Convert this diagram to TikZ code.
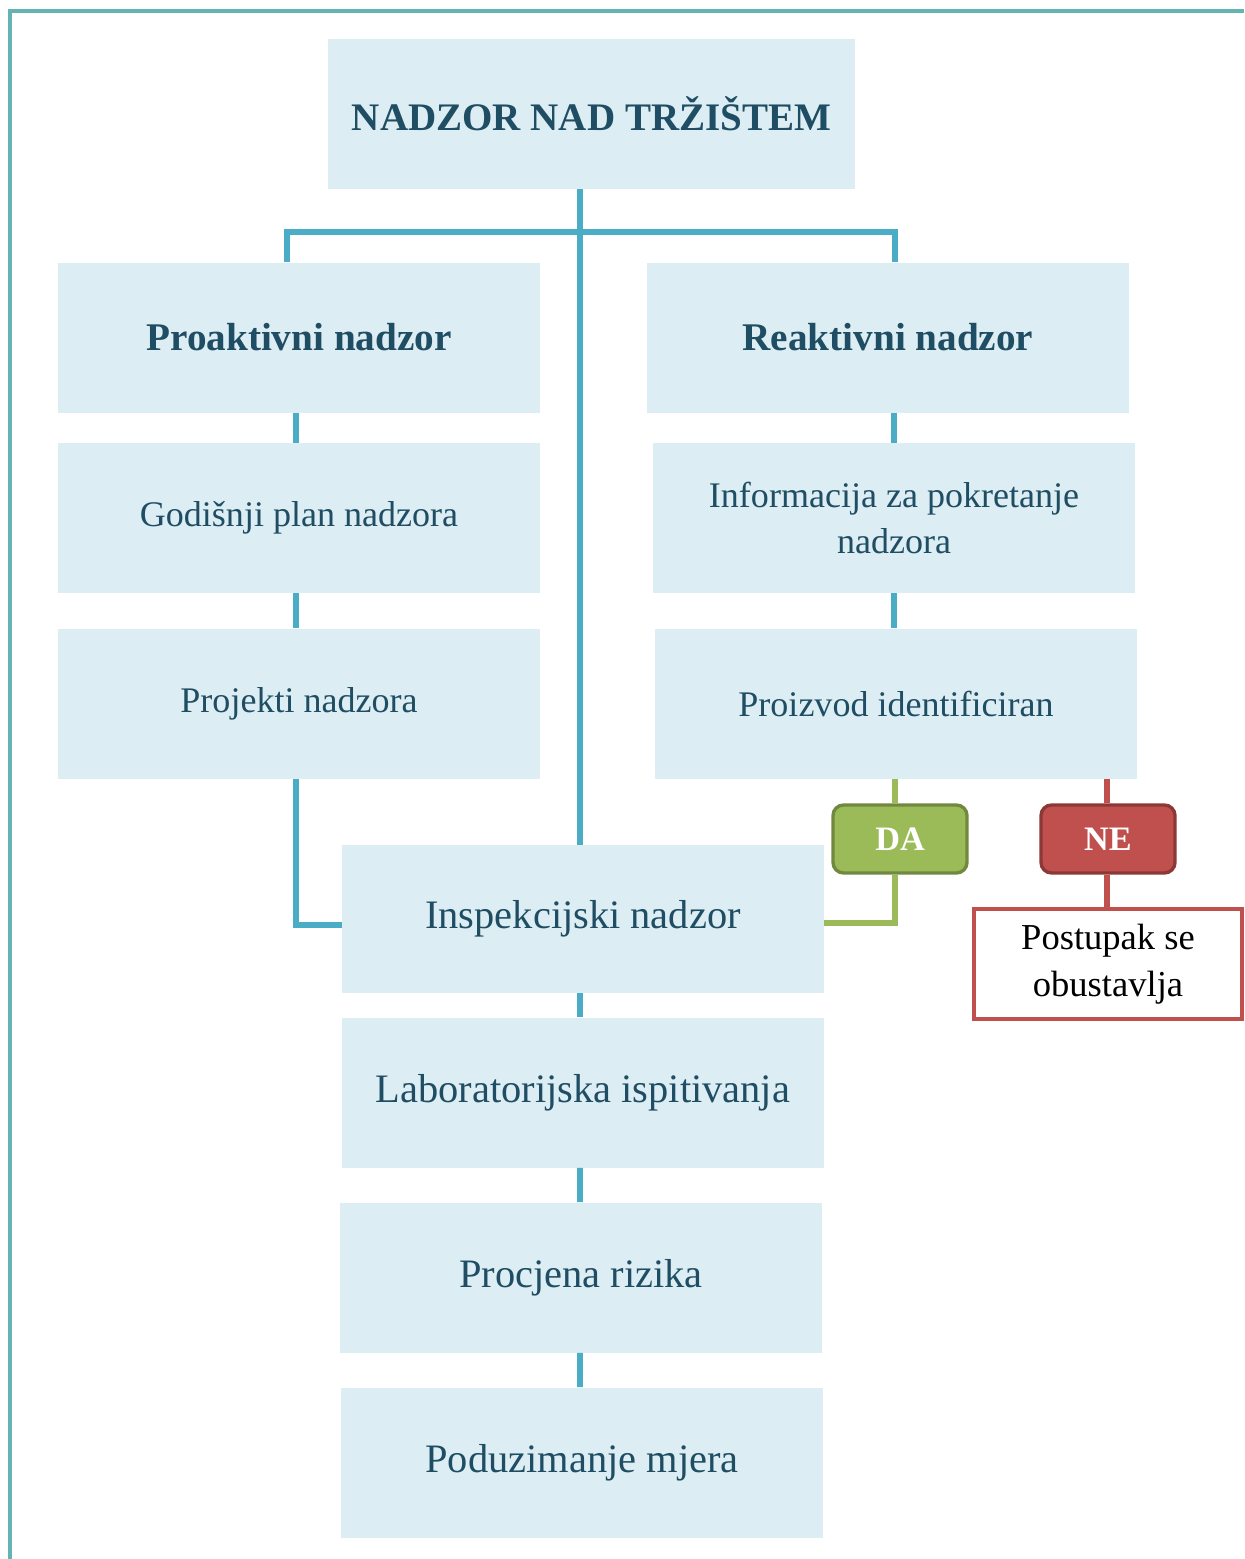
\documentclass[tikz,border=0pt]{standalone}
\usepackage{fontspec}
\setmainfont{Liberation Serif}
\usetikzlibrary{positioning}

\definecolor{okvir}{RGB}{100,180,180}
\definecolor{plavo}{RGB}{220,237,243}
\definecolor{veza}{RGB}{75,172,198}
\definecolor{tekst}{RGB}{31,77,99}
\definecolor{zeleno}{RGB}{155,187,89}
\definecolor{zelenorub}{RGB}{113,137,63}
\definecolor{crveno}{RGB}{192,80,77}
\definecolor{crvenorub}{RGB}{140,56,54}

\tikzset{
  blok/.style={fill=plavo, text=tekst, inner sep=0pt, align=center,
    minimum width=9.64cm, minimum height=3cm,
    font=\fontsize{20.5}{26.6}\selectfont},
  veliki/.style={blok, font=\fontsize{23}{28}\selectfont},
  naslov/.style={blok, font=\fontsize{22.2}{28}\selectfont\bfseries},
  linija/.style={draw=veza, line width=3.3pt},
  odluka/.style={rounded corners=6pt, line width=1.9pt, text=white,
    minimum width=2.68cm, minimum height=1.36cm, inner sep=0pt,
    font=\fontsize{19.5}{24}\selectfont\bfseries}
}

\begin{document}
\begin{tikzpicture}
  \useasboundingbox (0,0) rectangle (24.88,-31.18);
  \draw[okvir, line width=2pt] (0.2,-31.18) -- (0.2,-0.22) -- (24.88,-0.22);

  % vrh
  \node[naslov, minimum width=10.54cm] (title) at (11.83,-2.28) {NADZOR NAD TRŽIŠTEM};

  % proaktivni i reaktivni
  \node[naslov, font=\fontsize{22.3}{26}\selectfont\bfseries] (pro) at (5.98,-6.75) {Proaktivni nadzor};
  \node[naslov, font=\fontsize{22.3}{26}\selectfont\bfseries] (rea) at (17.76,-6.75) {Reaktivni nadzor};
  \node[blok] (god) at (5.98,-10.36) {Godišnji plan nadzora};
  \node[blok] (inf) at (17.88,-10.36) {Informacija za pokretanje\\nadzora};
  \node[blok] (prj) at (5.98,-14.07) {Projekti nadzora};
  \node[blok] (pzv) at (17.92,-14.07) {Proizvod identificiran};

  % odluka
  \node[odluka, fill=zeleno, draw=zelenorub] (da) at (18.0,-16.78) {DA};
  \node[odluka, fill=crveno, draw=crvenorub] (ne) at (22.16,-16.78) {NE};
  \node[draw=crveno, line width=2.2pt, fill=white, align=center,
    minimum width=5.36cm, minimum height=2.2cm, inner sep=0pt,
    font=\fontsize{20.8}{26.6}\selectfont] (post) at (22.16,-19.28) {Postupak se\\obustavlja};

  % dolje
  \node[veliki, minimum height=2.96cm] (insp) at (11.66,-18.38) {Inspekcijski nadzor};
  \node[veliki] (lab) at (11.66,-21.85) {Laboratorijska ispitivanja};
  \node[veliki] (proc) at (11.62,-25.55) {Procjena rizika};
  \node[veliki] (pod) at (11.64,-29.25) {Poduzimanje mjera};

  % veze
  \coordinate (os) at ([xshift=-0.23cm]title.south);
  \coordinate (razd) at ([yshift=-0.86cm]os);
  \draw[linija] (os) -- (os |- insp.north);
  \draw[linija] ([xshift=-0.24cm]pro.north) |- (razd) -| ([xshift=0.14cm]rea.north);

  \draw[linija] ([xshift=-0.06cm]pro.south) -- ([xshift=-0.06cm]god.north);
  \draw[linija] ([xshift=-0.06cm]god.south) -- ([xshift=-0.06cm]prj.north);
  \draw[linija] ([xshift=-0.06cm]prj.south) |- ([yshift=-0.12cm]insp.west);

  \draw[linija] (inf.north |- rea.south) -- (inf.north);
  \draw[linija] (inf.south) -- (inf.south |- pzv.north);

  \draw[draw=zeleno, line width=3.3pt] ([xshift=-0.1cm]da.north |- pzv.south) -- ([xshift=-0.1cm]da.north);
  \draw[draw=zeleno, line width=3.3pt] ([xshift=-0.1cm]da.south) |- ([yshift=-0.08cm]insp.east);
  \draw[draw=crveno, line width=3.3pt] ([xshift=-0.02cm]ne.north |- pzv.south) -- ([xshift=-0.02cm]ne.north);
  \draw[draw=crveno, line width=3.3pt] ([xshift=-0.02cm]ne.south) -- ([xshift=-0.02cm]post.north);

  \draw[linija] ([xshift=-0.06cm]insp.south) -- ([xshift=-0.06cm]lab.north);
  \draw[linija] ([xshift=-0.06cm]lab.south) -- ([xshift=-0.02cm]proc.north);
  \draw[linija] ([xshift=-0.02cm]proc.south) -- ([xshift=-0.04cm]pod.north);
\end{tikzpicture}
\end{document}
